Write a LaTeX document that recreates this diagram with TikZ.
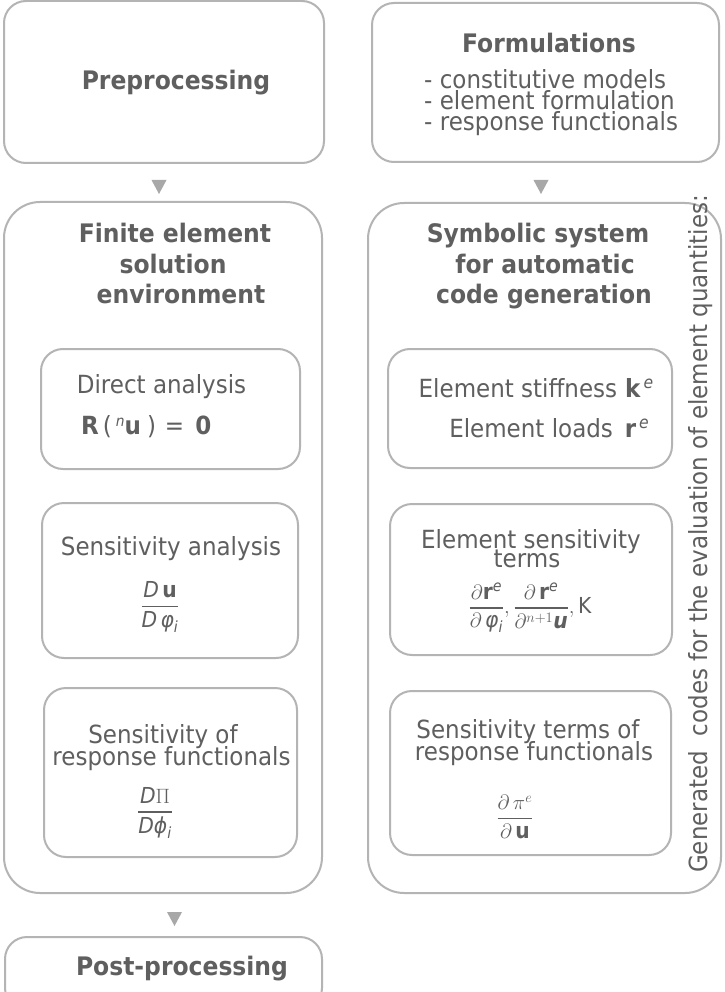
\documentclass[tikz,border=0pt]{standalone}
\usepackage{amsmath}
\usepackage{fontspec}
\setmainfont{DejaVu Sans}[FakeStretch=0.92]
\definecolor{tc}{HTML}{5F5F5F}
\definecolor{bc}{HTML}{B4B4B4}
\definecolor{ac}{HTML}{A8A8A8}
\newcommand{\myfr}[2]{\genfrac{}{}{1.4pt}{0}{#1}{#2}}
\tikzset{
  frame/.style={draw=bc, line width=2pt, rounded corners=22pt, inner sep=0pt},
  bigframe/.style={frame, rounded corners=36pt},
  txt/.style={text=tc, inner sep=0pt, font=\fontsize{25}{21}\selectfont},
  btxt/.style={text=tc, inner sep=0pt, font=\fontsize{25.5}{21}\selectfont\bfseries},
  mth/.style={text=tc, inner sep=0pt, font=\fontsize{22}{24}\selectfont},
  vtxt/.style={text=tc, inner sep=0pt, font=\fontsize{25}{21}\selectfont, rotate=90},
  tri/.style={fill=ac}
}
\begin{document}
\begin{tikzpicture}[x=1pt, y=-1pt]
\clip (0,0) rectangle (724,992);
\fill[white] (0,0) rectangle (724,992);
% boxes
\node[frame, minimum width=320pt, minimum height=162pt] (pre) at (164,82) {};
\node[frame, minimum width=347pt, minimum height=159pt] (form) at (545.5,82.5) {};
\node[bigframe, minimum width=318pt, minimum height=691pt] (fe) at (163,547.5) {};
\node[bigframe, minimum width=353pt, minimum height=690pt] (sym) at (544.5,548) {};
\node[frame, minimum width=259pt, minimum height=120pt] (direct) at (170.5,409) {};
\node[frame, minimum width=256pt, minimum height=155pt] (sens) at (170,580.5) {};
\node[frame, minimum width=253pt, minimum height=169pt] (sresp) at (170.5,772.5) {};
\node[frame, minimum width=284pt, minimum height=119pt] (stiff) at (530,408.5) {};
\node[frame, minimum width=282pt, minimum height=151pt] (esens) at (531,579.5) {};
\node[frame, minimum width=281pt, minimum height=164pt] (sterm) at (530.5,773) {};
\node[frame, minimum width=317pt, minimum height=73pt] (post) at (163.5,973.5) {};
% arrow markers
\fill[tri] (151.5,180) -- (166.5,180) -- (159,194) -- cycle;
\fill[tri] (533.5,180) -- (548.5,180) -- (541,194) -- cycle;
\fill[tri] (167,912) -- (182,912) -- (174.5,926) -- cycle;
% texts
\node[btxt, anchor=base] (tpre) at (176,90) {Preprocessing};
\node[btxt, anchor=base] (tform) at (549,53) {Formulations};
\node[txt, anchor=base west] (l1) at (424,89) {- constitutive models};
\node[txt, anchor=base west] (l2) at (424,110) {- element formulation};
\node[txt, anchor=base west] (l3) at (424,131) {- response functionals};
\node[btxt, anchor=base] (fe1) at (175,243) {Finite element};
\node[btxt, anchor=base] (fe2) at (173,273) {solution};
\node[btxt, anchor=base] (fe3) at (181,303) {environment};
\node[btxt, anchor=base] (sy1) at (538,243) {Symbolic system};
\node[btxt, anchor=base] (sy2) at (545,273) {for automatic};
\node[btxt, anchor=base] (sy3) at (544,303) {code generation};
\node[txt, anchor=base] (tdir) at (161.5,393) {Direct analysis};
\node[txt, anchor=base west] (teq) at (81,434) {\textbf{R}\hspace{4pt}(\hspace{4pt}\raisebox{8pt}{\fontsize{15}{15}\selectfont\itshape n}\textbf{u}\hspace{6pt})\hspace{9pt}=\hspace{11pt}\textbf{0}};
\node[txt, anchor=base] (tsens) at (171,555) {Sensitivity analysis};
\node[mth] (fsens) at (160,607) {$\myfr{\textit{D}\,\textbf{u}}{\textit{D}\,\textit{φ}_{\textit{i}}}$};
\node[txt, anchor=base] (tsr1) at (163,743) {Sensitivity of};
\node[txt, anchor=base] (tsr2) at (171.5,765) {response functionals};
\node[mth] (fsr) at (155,813) {$\myfr{\textit{D}\Pi}{\textit{D}\textit{ϕ}_{\textit{i}}}$};
\node[txt, anchor=base] (tst) at (536,397) {Element stiffness\hspace{8pt}\textbf{k}\raisebox{9pt}{\fontsize{17}{17}\selectfont\itshape\,e}};
\node[txt, anchor=base] (tld) at (549,437) {Element loads\hspace{12pt}\textbf{r}\raisebox{9pt}{\fontsize{17}{17}\selectfont\itshape\,e}};
\node[txt, anchor=base] (tes1) at (531,548) {Element sensitivity};
\node[txt, anchor=base] (tes2) at (527,567) {terms};
\node[mth] (fes) at (530,608) {$\myfr{\partial\textbf{r}^{\textit{e}}}{\partial\,\textit{φ}_{\textit{i}}}, \myfr{\partial\,\textbf{r}^{\textit{e}}}{\partial^{n+1}\textbf{\textit{u}}},\text{K}$};
\node[txt, anchor=base] (tte1) at (528,738) {Sensitivity terms of};
\node[txt, anchor=base] (tte2) at (534,760) {response functionals};
\node[mth] (fte) at (515,817) {$\myfr{\partial\,\pi^{e}}{\partial\,\textbf{u}}$};
\node[btxt, anchor=base] (tpost) at (182,975) {Post-processing};
\node[vtxt, anchor=base] (gen) at (707,534) {Generated\ \ codes for the evaluation of element quantities:};
\end{tikzpicture}
\end{document}
